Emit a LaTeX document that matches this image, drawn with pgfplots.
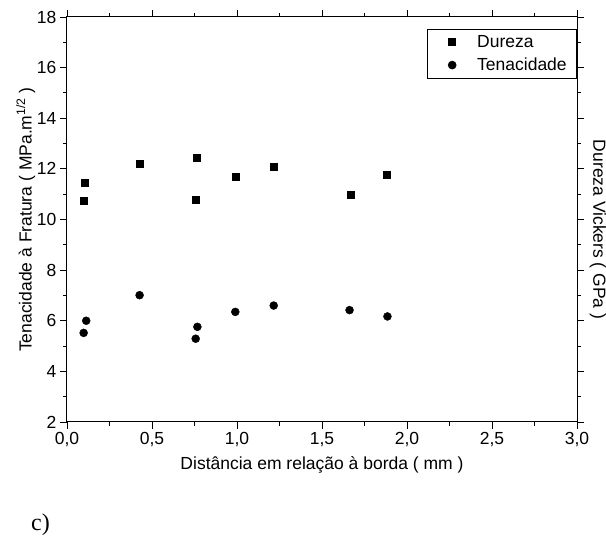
\documentclass[border=0pt]{standalone}
\usepackage{pgfplots}
\pgfplotsset{compat=1.18}
\usepackage{fontspec}
\setmainfont{Liberation Sans}
\newfontfamily\timesf{Liberation Serif}

\begin{document}
\begin{tikzpicture}[x=1pt,y=1pt]
\useasboundingbox (-67,-116) rectangle (539,422);
\begin{axis}[
  at={(0,0)},anchor=south west,
  scale only axis,width=510pt,height=405pt,
  xmin=0,xmax=3,ymin=2,ymax=18,
  xtick={0,0.5,...,3},ytick={2,4,...,18},
  minor x tick num=1,minor y tick num=1,
  tick align=outside,
  major tick length=7pt,minor tick length=4pt,
  every tick/.style={black,line width=0.9pt},
  axis line style={line width=1pt},
  /pgf/number format/assume math mode=true,
  /pgf/number format/use comma,
  /pgf/number format/fixed,
  xticklabel style={/pgf/number format/precision=1,/pgf/number format/fixed zerofill},
  tick label style={font=\fontsize{17.5}{20}\selectfont},
  label style={font=\fontsize{17.5}{20}\selectfont},
  xlabel={Distância em relação à borda ( mm )},
  ylabel={Tenacidade à Fratura ( MPa.m\textsuperscript{1/2} )},
  xlabel style={yshift=-3pt},
  ylabel style={yshift=-5pt},
  legend style={at={(1,0.97)},anchor=north east,draw=black,line width=0.6pt,
    font=\fontsize{17.5}{20}\selectfont,inner xsep=8pt,inner ysep=4pt,row sep=5pt,
    legend cell align=left},
  legend image code/.code={\path[draw=none] (0pt,0pt) -- (40pt,0pt);\draw[#1] plot coordinates {(17pt,0pt)};},
  clip=false,
]
\addplot[only marks,mark=square*,mark size=3.5pt,black] coordinates {
(0.106,11.45) (0.098,10.73) (0.427,12.19) (0.761,12.45) (0.757,10.80)
(0.994,11.68) (1.213,12.10) (1.666,10.96) (1.883,11.78)};
\addlegendentry{Dureza}
\addplot[only marks,mark=*,mark size=4pt,black] coordinates {
(0.098,5.52) (0.113,6.00) (0.427,7.01) (0.767,5.76) (0.757,5.29)
(0.990,6.35) (1.216,6.60) (1.662,6.42) (1.885,6.17)};
\addlegendentry{Tenacidade}
\node[rotate=-90,anchor=base,font=\fontsize{17.5}{20}\selectfont] at (axis description cs:1.032,0.475) {Dureza Vickers ( GPa )};
\end{axis}
\node[anchor=south west,inner sep=0pt,font=\timesf\fontsize{24}{26}\selectfont] at (-36,-114) {c)};
\end{tikzpicture}
\end{document}
